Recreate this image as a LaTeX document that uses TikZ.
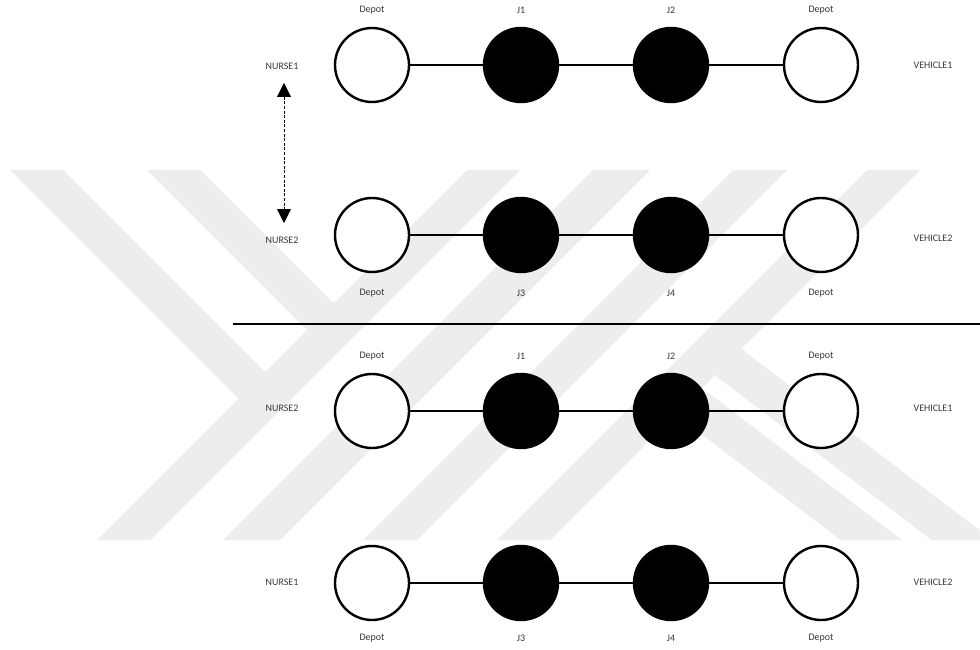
\documentclass[tikz,border=0pt]{standalone}
\usepackage{fontspec}
\setmainfont{Carlito}
\usetikzlibrary{arrows.meta}
\begin{document}
\begin{tikzpicture}[x=1pt,y=-1pt,
  wm/.style={fill=black!7, draw=none},
  depot/.style={circle, draw=black, line width=2.4pt, fill=white, minimum size=74pt, inner sep=0pt},
  job/.style={circle, draw=black, line width=2.4pt, fill=black, minimum size=74pt, inner sep=0pt},
  lbl/.style={font=\fontsize{10}{12}\selectfont, text=black!78, inner sep=0pt},
  link/.style={line width=1.3pt, draw=black},
  sepline/.style={line width=1.5pt, draw=black},
  swaparrow/.style={line width=0.9pt, dash pattern=on 3pt off 1.6pt,
    {Triangle[length=14pt,width=14pt]}-{Triangle[length=14pt,width=14pt]}}
]
\useasboundingbox (0,0) rectangle (980,650);
\fill[white] (0,0) rectangle (980,650);

% watermark
\begin{scope}
\clip (0,170) rectangle (980,540);
\fill[wm] (10,170) -- (63,170) -- (278.25,385.25) -- (251.75,411.75) -- cycle;
\fill[wm] (147,170) -- (200,170) -- (346.75,316.75) -- (320.25,343.25) -- cycle;
\fill[wm] (467,170) -- (520,170) -- (150,540) -- (97,540) -- cycle;
\fill[wm] (593,170) -- (650,170) -- (280,540) -- (223,540) -- cycle;
\fill[wm] (733,170) -- (787,170) -- (417,540) -- (363,540) -- cycle;
\fill[wm] (867,170) -- (920,170) -- (550,540) -- (497,540) -- cycle;
\fill[wm] (726,337.4) -- (992.6,540) -- (931.6,540) -- (699.8,363.8) -- cycle;
\fill[wm] (686.9,376.6) -- (901.8,540) -- (840.8,540) -- (660.5,403) -- cycle;
\end{scope}

% row 1
\node[depot] (a1) at (372,65) {};
\node[job]   (a2) at (521,65) {};
\node[job]   (a3) at (671,65) {};
\node[depot] (a4) at (821,65) {};
\draw[link] (a1) -- (a2);
\draw[link] (a2) -- (a3);
\draw[link] (a3) -- (a4);
\node[lbl] (la1) at (372,10) {Depot};
\node[lbl] (la2) at (521,10) {J1};
\node[lbl] (la3) at (671,10) {J2};
\node[lbl] (la4) at (821,10) {Depot};
\node[lbl] (na) at (282,66) {NURSE1};
\node[lbl] (va) at (933,65) {VEHICLE1};

% row 2
\node[depot] (b1) at (372,235) {};
\node[job]   (b2) at (521,235) {};
\node[job]   (b3) at (671,235) {};
\node[depot] (b4) at (821,235) {};
\draw[link] (b1) -- (b2);
\draw[link] (b2) -- (b3);
\draw[link] (b3) -- (b4);
\node[lbl] (lb1) at (372,293) {Depot};
\node[lbl] (lb2) at (521,293) {J3};
\node[lbl] (lb3) at (671,293) {J4};
\node[lbl] (lb4) at (821,293) {Depot};
\node[lbl] (nb) at (282,240) {NURSE2};
\node[lbl] (vb) at (933,238) {VEHICLE2};

% swap arrow
\coordinate (arTop) at (284,83);
\coordinate (arBot) at (284,223);
\draw[swaparrow] (arTop) -- (arBot);

% separator
\coordinate (sepL) at (233,324);
\coordinate (sepR) at (980,324);
\draw[sepline] (sepL) -- (sepR);

% row 3
\node[depot] (c1) at (372,411) {};
\node[job]   (c2) at (521,411) {};
\node[job]   (c3) at (671,411) {};
\node[depot] (c4) at (821,411) {};
\draw[link] (c1) -- (c2);
\draw[link] (c2) -- (c3);
\draw[link] (c3) -- (c4);
\node[lbl] (lc1) at (372,356) {Depot};
\node[lbl] (lc2) at (521,356) {J1};
\node[lbl] (lc3) at (671,356) {J2};
\node[lbl] (lc4) at (821,356) {Depot};
\node[lbl] (nc) at (282,408) {NURSE2};
\node[lbl] (vc) at (933,408) {VEHICLE1};

% row 4
\node[depot] (d1) at (372,583) {};
\node[job]   (d2) at (521,583) {};
\node[job]   (d3) at (671,583) {};
\node[depot] (d4) at (821,583) {};
\draw[link] (d1) -- (d2);
\draw[link] (d2) -- (d3);
\draw[link] (d3) -- (d4);
\node[lbl] (ld1) at (372,638) {Depot};
\node[lbl] (ld2) at (521,638) {J3};
\node[lbl] (ld3) at (671,638) {J4};
\node[lbl] (ld4) at (821,638) {Depot};
\node[lbl] (nd) at (282,582) {NURSE1};
\node[lbl] (vd) at (933,582) {VEHICLE2};
\end{tikzpicture}
\end{document}
